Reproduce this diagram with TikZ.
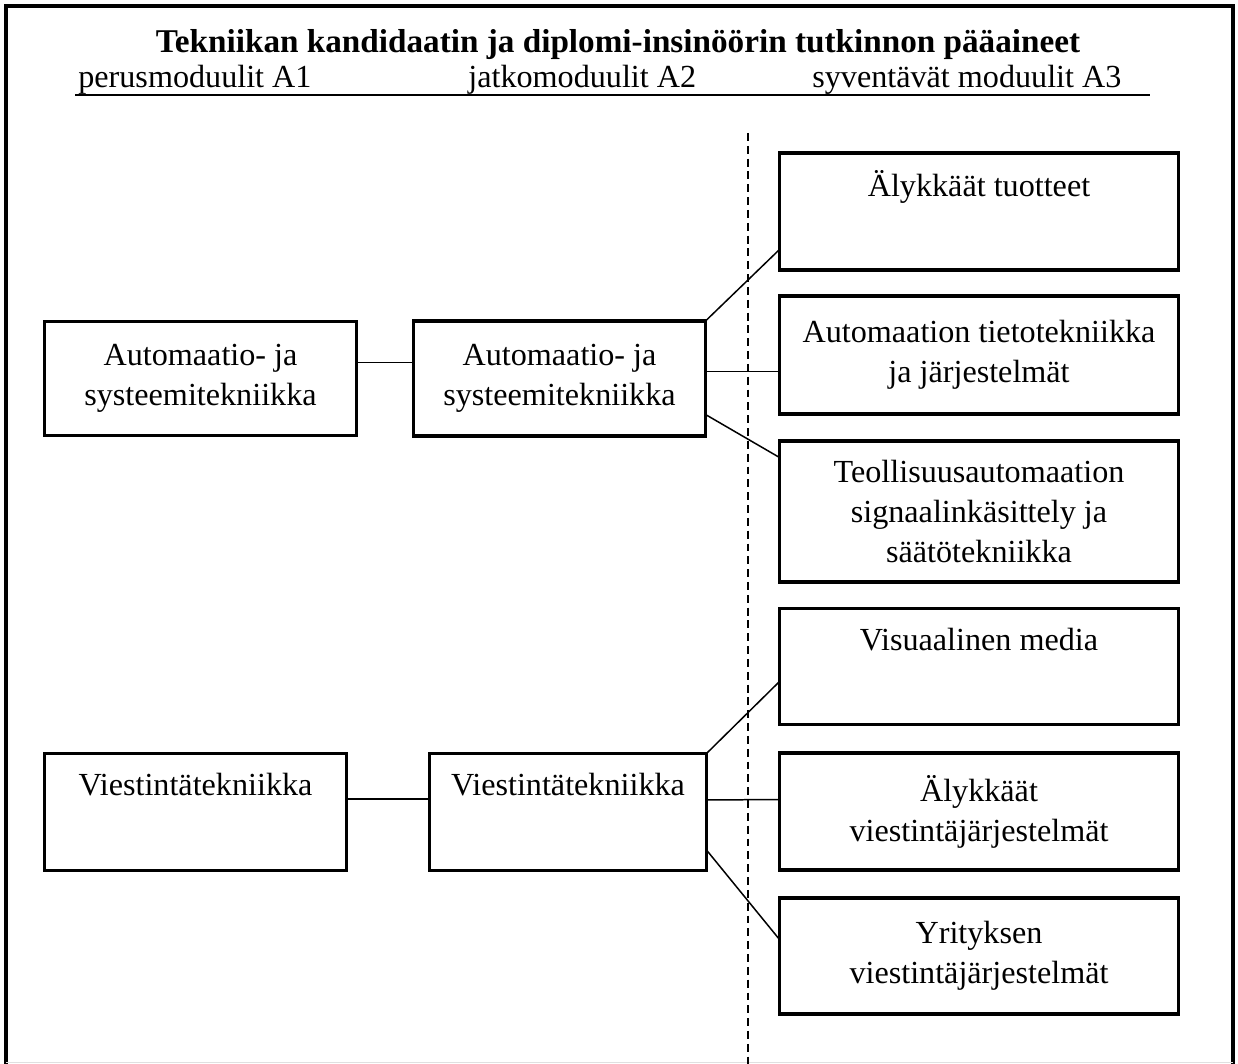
\documentclass[tikz,border=0pt]{standalone}
\usepackage{fontspec}
\setmainfont{Liberation Serif}
\usetikzlibrary{positioning}

\begin{document}
\begin{tikzpicture}[node distance=3cm, on grid,
    every node/.style={font=\fontsize{18.3}{22.8}\selectfont},
    module/.style={draw, line width=1.8pt, align=center, inner sep=0pt, outer sep=0pt},
    right box/.style={module, minimum width=7.98cm},
    heading/.style={anchor=base west, inner sep=0pt},
    link/.style={line width=0.85pt}]
    \useasboundingbox (0,0) rectangle (24.76,-21.28);
    % frame, open at the bottom
    \draw[line width=2.3pt] (0.12,-21.28) -- (0.12,-0.12) -- (24.66,-0.12) -- (24.66,-21.28);
    \draw[black!12, line width=0.8pt] (0.12,-21.25) -- (24.66,-21.25);

    \node[anchor=base, inner sep=0pt, font=\bfseries\fontsize{18.9}{22.8}\selectfont] (title) at (12.36,-1.06) {Tekniikan kandidaatin ja diplomi-insinöörin tutkinnon pääaineet};
    \node[heading] (colA1) at (1.56,-1.76) {perusmoduulit A1};
    \node[heading] (colA2) at (9.36,-1.76) {jatkomoduulit A2};
    \node[heading] (colA3) at (16.24,-1.76) {syventävät moduulit A3};
    \coordinate (rule west) at (1.5,-1.9);
    \coordinate (rule east) at (23.0,-1.9);
    \draw[line width=0.85pt] (rule west) -- (rule east);

    \node[module, minimum width=6.24cm, minimum height=2.28cm] (autoA1) at (4.01,-7.57) {Automaatio- ja\\ systeemitekniikka};
    \node[module, minimum width=5.84cm, minimum height=2.3cm, right=7.18cm of autoA1] (autoA2) {Automaatio- ja\\ systeemitekniikka};
    \node[module, minimum width=6.04cm, minimum height=2.34cm, below left=8.67cm and 0.1cm of autoA1] (viestA1) {Viestintätekniikka\\[0.3cm]~};
    \node[module, minimum width=5.54cm, minimum height=2.34cm, right=7.45cm of viestA1] (viestA2) {Viestintätekniikka\\[0.3cm]~};

    \node[right box, minimum height=2.36cm, above right=0.47cm and 8.39cm of autoA2] (tieto) {Automaation tietotekniikka\\ ja järjestelmät};
    \node[right box, minimum height=2.34cm, above=2.87cm of tieto] (alyk) {Älykkäät tuotteet\\[0.3cm]~};
    \node[right box, minimum height=2.82cm, below=3.13cm of tieto] (teoll) {Teollisuusautomaation\\ signaalinkäsittely ja\\ säätötekniikka};
    \node[right box, minimum height=2.32cm, below=3.1cm of teoll] (visu) {Visuaalinen media\\[0.3cm]~};
    \node[right box, minimum height=2.34cm, below=2.9cm of visu] (alykv) {Älykkäät\\ viestintäjärjestelmät};
    \node[right box, minimum height=2.32cm, below=2.89cm of alykv] (yrit) {Yrityksen\\ viestintäjärjestelmät};

    % A2 | A3 border
    \coordinate (split top) at (14.96,-2.66);
    \coordinate (split bottom) at (14.96,-21.28);
    \draw[line width=1pt, dash pattern=on 4.5pt off 2.8pt] (split top) -- (split bottom);

    \path[link]
    ([yshift=0.32cm]autoA1.east) edge ([yshift=0.32cm]autoA2.west)
    (autoA2.north east) edge ([yshift=-0.76cm]alyk.west)
    ([yshift=0.14cm]autoA2.east) edge ([yshift=-0.33cm]tieto.west)
    ([yshift=-0.72cm]autoA2.east) edge ([yshift=1.08cm]teoll.west)
    ([yshift=0.26cm]viestA1.east) edge ([yshift=0.26cm]viestA2.west)
    (viestA2.north east) edge ([yshift=-0.3cm]visu.west)
    ([yshift=0.24cm]viestA2.east) edge ([yshift=0.24cm]alykv.west)
    ([yshift=-0.76cm]viestA2.east) edge ([yshift=0.33cm]yrit.west);
\end{tikzpicture}
\end{document}
